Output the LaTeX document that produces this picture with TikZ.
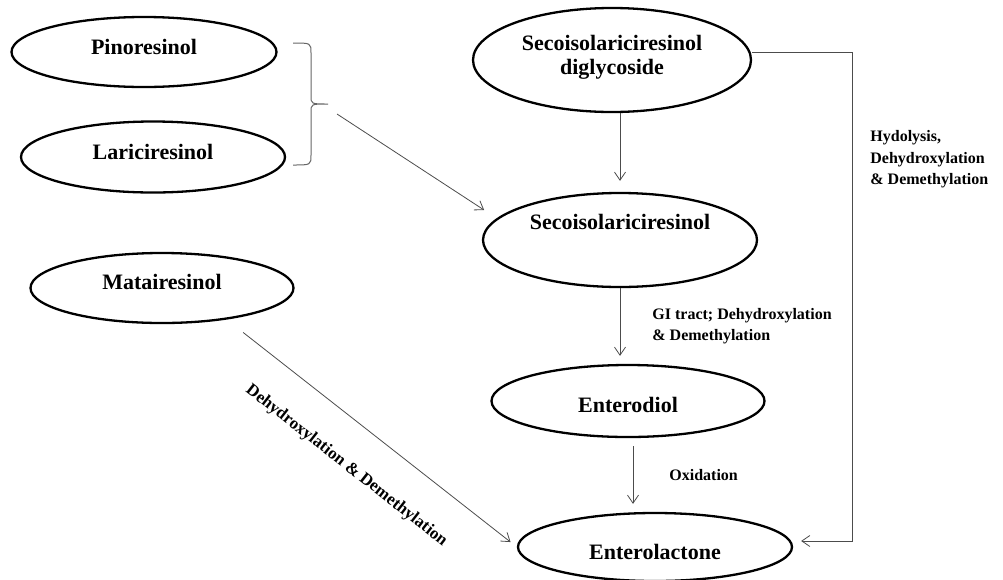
\documentclass[tikz,border=0pt]{standalone}
\usepackage{fontspec}
\setmainfont{Liberation Serif}
\usetikzlibrary{shapes.geometric,arrows.meta,positioning}

\tikzset{
    lignan/.style={ellipse, draw=black, line width=2.3pt, inner sep=0pt, align=center,
        font=\fontsize{22}{24}\selectfont\bfseries},
    flow/.style={draw=black!70, line width=0.8pt, -{Straight Barb[length=8pt,width=11pt]}},
    steplabel/.style={inner sep=0pt, align=left, text=black,
        font=\fontsize{16}{21.5}\selectfont\bfseries}
}

\begin{document}
\begin{tikzpicture}[x=1pt, y=-1pt]
    \useasboundingbox (0,0) rectangle (1003,579);

    \node[lignan, minimum width=265pt, minimum height=70pt, text depth=10pt] (pino) at (144,52) {Pinoresinol};
    \node[lignan, minimum width=264pt, minimum height=71pt, text depth=10pt] (lari) at (153,157) {Lariciresinol};
    \node[lignan, minimum width=263pt, minimum height=70pt, text depth=12pt] (mata) at (162,288) {Matairesinol};
    \node[lignan, minimum width=278pt, minimum height=104pt, text depth=11pt] (sdg) at (612,60) {Secoisolariciresinol\\diglycoside};
    \node[lignan, minimum width=274pt, minimum height=94pt, text depth=36pt] (seco) at (620,240) {Secoisolariciresinol};
    \node[lignan, minimum width=273pt, minimum height=72pt, text height=23pt] (ed) at (628,401) {Enterodiol};
    \node[lignan, minimum width=274pt, minimum height=68pt, text height=25pt] (el) at (655,547) {Enterolactone};

    \draw[black!60, line width=1pt] (293,43) .. controls (311,43) .. (311,53) -- (311,96)
        .. controls (311,104) .. (328,104) .. controls (311,104) .. (311,112) -- (311,155)
        .. controls (311,165) .. (293,165);
    \coordinate (bracetip) at (337,114);
    \draw[flow, shorten >=15pt] (bracetip) -- (seco.170);

    \draw[flow, shorten >=11pt] (sdg.south -| seco.north) -- (seco.north);
    \draw[flow, shorten >=8pt] (seco.south) -- (seco.south |- ed.north)
        node[midway, right=32pt, steplabel] {GI tract; Dehydroxylation\\\& Demethylation};
    \draw[flow, shorten <=8pt, shorten >=8pt] ([xshift=5pt]ed.south) -- ([xshift=5pt]ed.south |- el.north)
        node[midway, right=36pt, steplabel] {Oxidation};

    \draw[flow, shorten <=21pt, shorten >=8pt] (mata.-26) -- (el.west)
        node[midway, sloped, below=33pt, steplabel, font=\fontsize{17}{20}\selectfont\bfseries] {Dehydroxylation \& Demethylation};

    \coordinate (hydtop) at (852,52);
    \coordinate (hydbottom) at (852,541);
    \draw[flow, shorten >=8pt] (sdg.east |- hydtop) -- (hydtop)
        -- node[pos=0.22, right=18pt, steplabel] {Hydolysis,\\Dehydroxylation\\\& Demethylation} (hydbottom)
        -- (hydbottom -| el.east);
\end{tikzpicture}
\end{document}
